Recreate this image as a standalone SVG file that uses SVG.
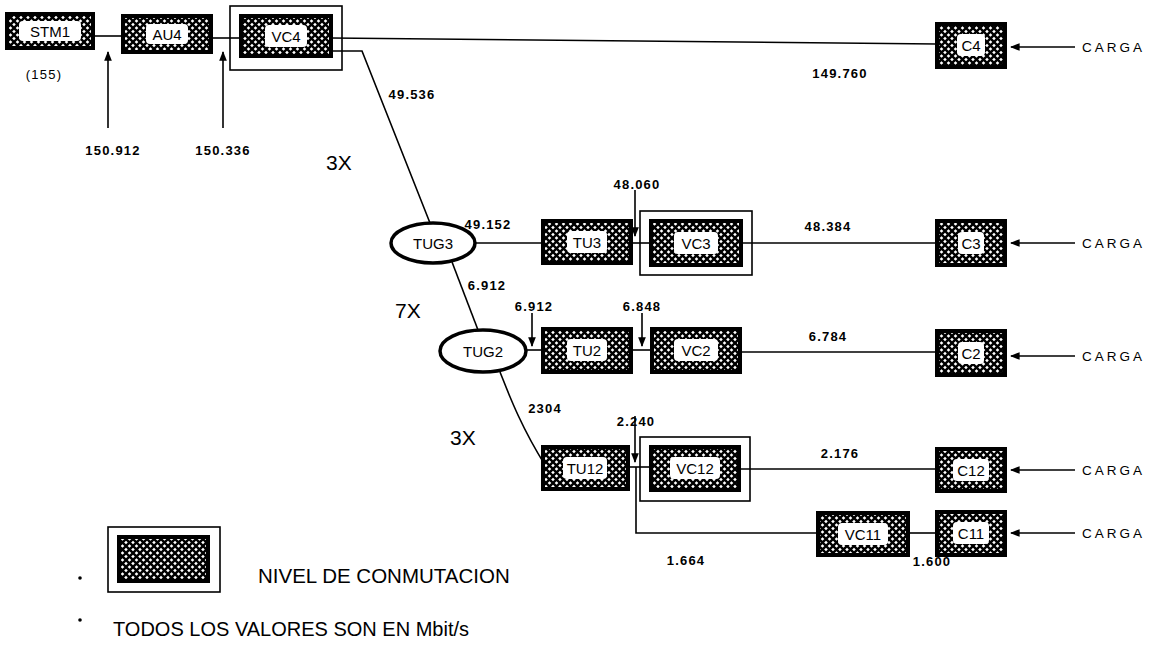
<svg xmlns="http://www.w3.org/2000/svg" width="1150" height="652" viewBox="0 0 1150 652">
<defs>
<pattern id="hatch" width="7" height="7" patternUnits="userSpaceOnUse"><rect width="7" height="7" fill="#fff"/><path d="M0,0L7,7M7,0L0,7" stroke="#000" stroke-width="2.4"/></pattern>
<marker id="ah" viewBox="0 0 10 10" refX="9" refY="5" markerWidth="6" markerHeight="6" orient="auto"><path d="M0,1L10,5L0,9z" fill="#000"/></marker>
</defs>
<style>
.box{fill:url(#hatch);stroke:#000;stroke-width:4}
.lab{fill:#fff}
.frame{fill:none;stroke:#000;stroke-width:1.6}
.nt{font-family:"Liberation Sans Narrow","Liberation Sans",Arial,sans-serif;font-size:15px;text-anchor:middle;dominant-baseline:central}
.num{font-family:"Liberation Sans",Arial,sans-serif;font-size:13px;font-weight:bold;letter-spacing:1.2px;text-anchor:middle}
.big{font-family:"Liberation Sans",Arial,sans-serif;font-size:21px}
.carga{font-family:"Liberation Sans",Arial,sans-serif;font-size:13.5px;letter-spacing:3px}
.ln{fill:none;stroke:#000;stroke-width:1.6}
.ar{fill:none;stroke:#000;stroke-width:1.6;marker-end:url(#ah)}
.tug{fill:#fff;stroke:#000;stroke-width:3.5}
</style>
<rect width="1150" height="652" fill="#fff"/>
<g id="connectors">
<path class="ln" d="M93,36H123"/>
<path class="ln" d="M211,38H241"/>
<path class="ar" d="M108,128V52"/>
<path class="ar" d="M223,128V52"/>
<path class="ln" d="M331,38L937,44"/>
<path class="ln" d="M331,51H362L430,223"/>
<path class="ln" d="M475,243H543"/>
<path class="ar" d="M635,190V236"/>
<path class="ln" d="M631,243H651"/>
<path class="ln" d="M741,243H937"/>
<path class="ln" d="M452,262L478,330"/>
<path class="ln" d="M526,350H543"/>
<path class="ar" d="M532,313V346"/>
<path class="ar" d="M642,313V346"/>
<path class="ln" d="M631,350H652"/>
<path class="ln" d="M740,352H937"/>
<path class="ln" d="M500,372C508,392 520,425 545,465"/>
<path class="ar" d="M635,416V462"/>
<path class="ln" d="M628,467H651"/>
<path class="ln" d="M739,469H937"/>
<path class="ln" d="M636,467V533H818"/>
<path class="ln" d="M908,533H937"/>
<path class="ar" d="M1075,47H1011"/>
<path class="ar" d="M1075,243H1011"/>
<path class="ar" d="M1075,356H1011"/>
<path class="ar" d="M1075,470H1011"/>
<path class="ar" d="M1075,533H1011"/>
</g>
<g id="STM1"><rect class="box" x="7" y="14" width="86" height="34"/><rect class="lab" x="19" y="21" width="62" height="20" rx="4"/><text class="nt" x="50" y="31">STM1</text></g>
<g id="AU4"><rect class="box" x="123" y="16" width="88" height="36"/><rect class="lab" x="146" y="24" width="42" height="20" rx="4"/><text class="nt" x="167" y="34">AU4</text></g>
<g id="VC4"><rect class="frame" x="230" y="6" width="112" height="64"/><rect class="box" x="241" y="16" width="90" height="40"/><rect class="lab" x="265" y="25" width="42" height="22" rx="4"/><text class="nt" x="286" y="36">VC4</text></g>
<g id="C4"><rect class="box" x="937" y="24" width="68" height="43"/><rect class="lab" x="957" y="34" width="28" height="22" rx="4"/><text class="nt" x="971" y="45">C4</text></g>
<g id="TUG3"><ellipse class="tug" cx="433" cy="243" rx="42" ry="20"/><text class="nt" x="433" y="243">TUG3</text></g>
<g id="TU3"><rect class="box" x="543" y="221" width="88" height="42"/><rect class="lab" x="567" y="231" width="40" height="22" rx="4"/><text class="nt" x="587" y="242">TU3</text></g>
<g id="VC3"><rect class="frame" x="640" y="211" width="112" height="64"/><rect class="box" x="651" y="221" width="90" height="44"/><rect class="lab" x="674" y="232" width="44" height="22" rx="4"/><text class="nt" x="696" y="243">VC3</text></g>
<g id="C3"><rect class="box" x="937" y="221" width="68" height="44"/><rect class="lab" x="958" y="232" width="26" height="22" rx="4"/><text class="nt" x="971" y="243">C3</text></g>
<g id="TUG2"><ellipse class="tug" cx="483" cy="351" rx="43" ry="21"/><text class="nt" x="483" y="351">TUG2</text></g>
<g id="TU2"><rect class="box" x="543" y="329" width="88" height="43"/><rect class="lab" x="567" y="339" width="40" height="22" rx="4"/><text class="nt" x="587" y="350">TU2</text></g>
<g id="VC2"><rect class="box" x="652" y="329" width="88" height="43"/><rect class="lab" x="674" y="339" width="44" height="22" rx="4"/><text class="nt" x="696" y="350">VC2</text></g>
<g id="C2"><rect class="box" x="937" y="331" width="68" height="44"/><rect class="lab" x="958" y="342" width="26" height="22" rx="4"/><text class="nt" x="971" y="353">C2</text></g>
<g id="TU12"><rect class="box" x="543" y="447" width="85" height="42"/><rect class="lab" x="563" y="457" width="44" height="22" rx="4"/><text class="nt" x="585" y="468">TU12</text></g>
<g id="VC12"><rect class="frame" x="640" y="437" width="110" height="64"/><rect class="box" x="651" y="447" width="88" height="43"/><rect class="lab" x="670" y="457" width="50" height="22" rx="4"/><text class="nt" x="695" y="468">VC12</text></g>
<g id="C12"><rect class="box" x="937" y="449" width="68" height="42"/><rect class="lab" x="953" y="459" width="36" height="22" rx="4"/><text class="nt" x="971" y="470">C12</text></g>
<g id="VC11"><rect class="box" x="818" y="513" width="90" height="42"/><rect class="lab" x="838" y="523" width="50" height="22" rx="4"/><text class="nt" x="863" y="534">VC11</text></g>
<g id="C11"><rect class="box" x="937" y="512" width="68" height="43"/><rect class="lab" x="953" y="522" width="36" height="22" rx="4"/><text class="nt" x="971" y="533">C11</text></g>
<g id="labels">
<text class="num" style="font-weight:normal" x="44" y="79">(155)</text>
<text class="num" x="113" y="155">150.912</text>
<text class="num" x="223" y="155">150.336</text>
<text class="num" x="412" y="99">49.536</text>
<text class="num" x="840" y="78">149.760</text>
<text class="big" x="326" y="170">3X</text>
<text class="num" x="637" y="189">48.060</text>
<text class="num" x="488" y="229">49.152</text>
<text class="num" x="828" y="231">48.384</text>
<text class="num" x="487" y="290">6.912</text>
<text class="big" x="395" y="318">7X</text>
<text class="num" x="534" y="311">6.912</text>
<text class="num" x="642" y="311">6.848</text>
<text class="num" x="828" y="341">6.784</text>
<text class="num" x="545" y="413">2304</text>
<text class="big" x="450" y="445">3X</text>
<text class="num" x="636" y="426">2.240</text>
<text class="num" x="840" y="458">2.176</text>
<text class="num" x="686" y="565">1.664</text>
<text class="num" x="932" y="566">1.600</text>
<text class="carga" x="1082" y="52">CARGA</text>
<text class="carga" x="1082" y="248">CARGA</text>
<text class="carga" x="1082" y="361">CARGA</text>
<text class="carga" x="1082" y="475">CARGA</text>
<text class="carga" x="1082" y="538">CARGA</text>
</g>
<g id="legend">
<circle cx="80" cy="578" r="1.8"/>
<rect class="frame" x="108" y="527" width="112" height="65"/>
<rect class="box" x="119" y="537" width="89" height="44"/>
<text class="big" style="font-size:20.5px" x="258" y="583">NIVEL DE CONMUTACION</text>
<circle cx="80" cy="620" r="1.8"/>
<text class="big" style="font-size:20px" x="113" y="636">TODOS LOS VALORES SON EN Mbit/s</text>
</g>
</svg>
